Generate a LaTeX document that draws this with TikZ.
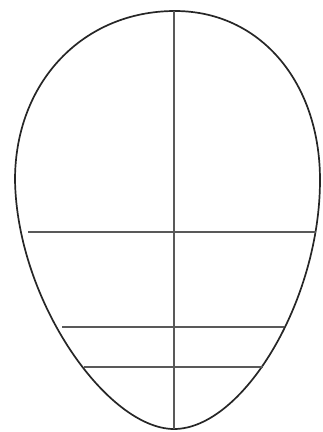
\documentclass[tikz,border=0pt]{standalone}
\usetikzlibrary{calc}

\begin{document}
\begin{tikzpicture}[
    x=1pt, y=-1pt,
    outline/.style={draw=black!85, line width=1.7pt},
    guide/.style={draw=black!65, line width=1.2pt},
]

\useasboundingbox (0,0) rectangle (322,432);

% Head outline
\draw[outline] (15,180) .. controls (15,82) and (83,11) .. (175,11)
    .. controls (260,11) and (320,82) .. (320,180)
    .. controls (320,302) and (242,429) .. (174,429)
    .. controls (108,429) and (17,302) .. (15,180) -- cycle;

% Guide points
\coordinate (top) at (174,11);
\coordinate (chin) at (174,429);
\coordinate (brow-l) at (28,232);
\coordinate (brow-r) at (316,232);
\coordinate (nose-l) at (62,327);
\coordinate (nose-r) at (284,327);
\coordinate (mouth-l) at (84,367);
\coordinate (mouth-r) at (263,367);

% Guide lines
\draw[guide] (top) -- (chin);
\draw[guide] (brow-l) -- (brow-r);
\draw[guide] (nose-l) -- (nose-r);
\draw[guide] (mouth-l) -- (mouth-r);

\end{tikzpicture}
\end{document}
